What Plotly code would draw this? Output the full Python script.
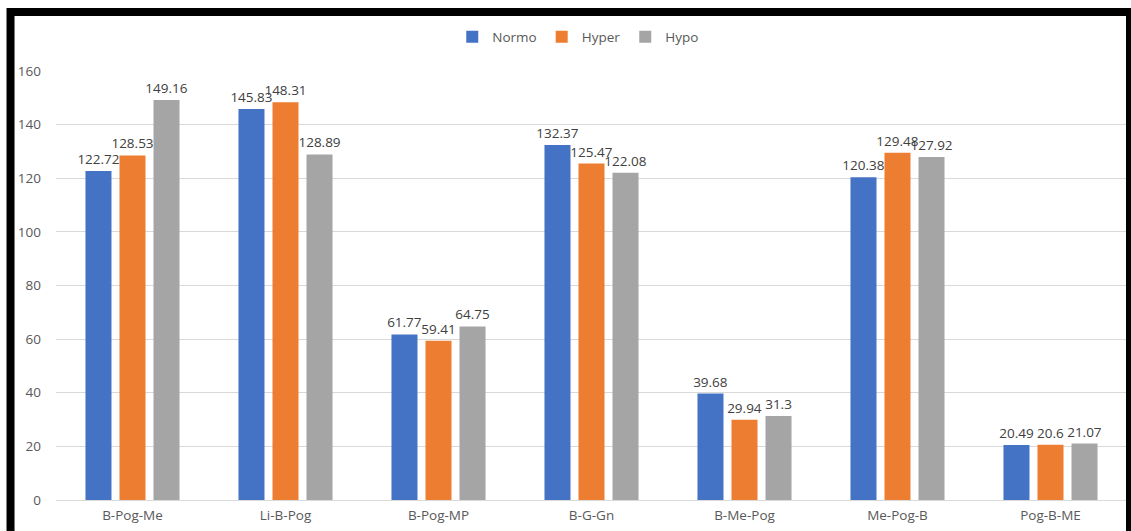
import plotly.graph_objects as go

# Angle measurements by facial type (degrees)
categories = ["B-Pog-Me", "Li-B-Pog", "B-Pog-MP", "B-G-Gn", "B-Me-Pog", "Me-Pog-B", "Pog-B-ME"]
normo = [122.72, 145.83, 61.77, 132.37, 39.68, 120.38, 20.49]
hyper = [128.53, 148.31, 59.41, 125.47, 29.94, 129.48, 20.6]
hypo = [149.16, 128.89, 64.75, 122.08, 31.3, 127.92, 21.07]
y_ticks = [0, 20, 40, 60, 80, 100, 120, 140, 160]

W, H = 1131, 531
L, R, T, B = 55.5, 4, 71, 31
plot_w = W - L - R
plot_h = H - T - B

font_family = "Open Sans, Liberation Sans, sans-serif"
text_color = "#595959"
label_color = "#404040"

series = [
    ("Normo", normo, "#4472C4"),
    ("Hyper", hyper, "#ED7D31"),
    ("Hypo", hypo, "#A5A5A5"),
]

fig = go.Figure()
for name, vals, color in series:
    fig.add_trace(go.Bar(
        name=name,
        x=categories,
        y=vals,
        marker=dict(color=color, line=dict(width=0)),
        text=[f"{v:g}" for v in vals],
        textposition="outside",
        constraintext="none",
        cliponaxis=False,
        textfont=dict(family=font_family, size=13.5, color=label_color),
    ))


def px_x(p):
    return (p - L) / plot_w


def px_y(p):
    return (H - B - p) / plot_h


fig.update_layout(
    width=W,
    height=H,
    margin=dict(l=L, r=R, t=T, b=B),
    paper_bgcolor="white",
    plot_bgcolor="white",
    barmode="group",
    bargap=0.333,
    bargroupgap=0.235,
    font=dict(family=font_family, size=13, color=text_color),
    legend=dict(
        orientation="h",
        x=px_x(578),
        xanchor="center",
        y=px_y(37),
        yanchor="middle",
        font=dict(family=font_family, size=13.5, color=text_color),
        itemwidth=30,
        bgcolor="rgba(0,0,0,0)",
    ),
    xaxis=dict(
        showgrid=False,
        showline=False,
        ticks="",
        tickfont=dict(family=font_family, size=13.5, color=text_color),
        ticklabelstandoff=5,
    ),
    yaxis=dict(
        range=[0, 160],
        tickvals=y_ticks,
        showgrid=True,
        gridcolor="#D9D9D9",
        gridwidth=1,
        zeroline=True,
        zerolinecolor="#D9D9D9",
        zerolinewidth=1,
        showline=False,
        ticks="",
        tickfont=dict(family=font_family, size=13.5, color=text_color),
        ticklabelstandoff=14,
    ),
    shapes=[
        dict(
            type="rect",
            xref="paper", yref="paper",
            x0=px_x(10), x1=px_x(1130),
            y0=px_y(540), y1=px_y(12),
            line=dict(color="black", width=8),
            fillcolor="rgba(0,0,0,0)",
            layer="above",
        )
    ],
)

fig.write_html("out.html")
